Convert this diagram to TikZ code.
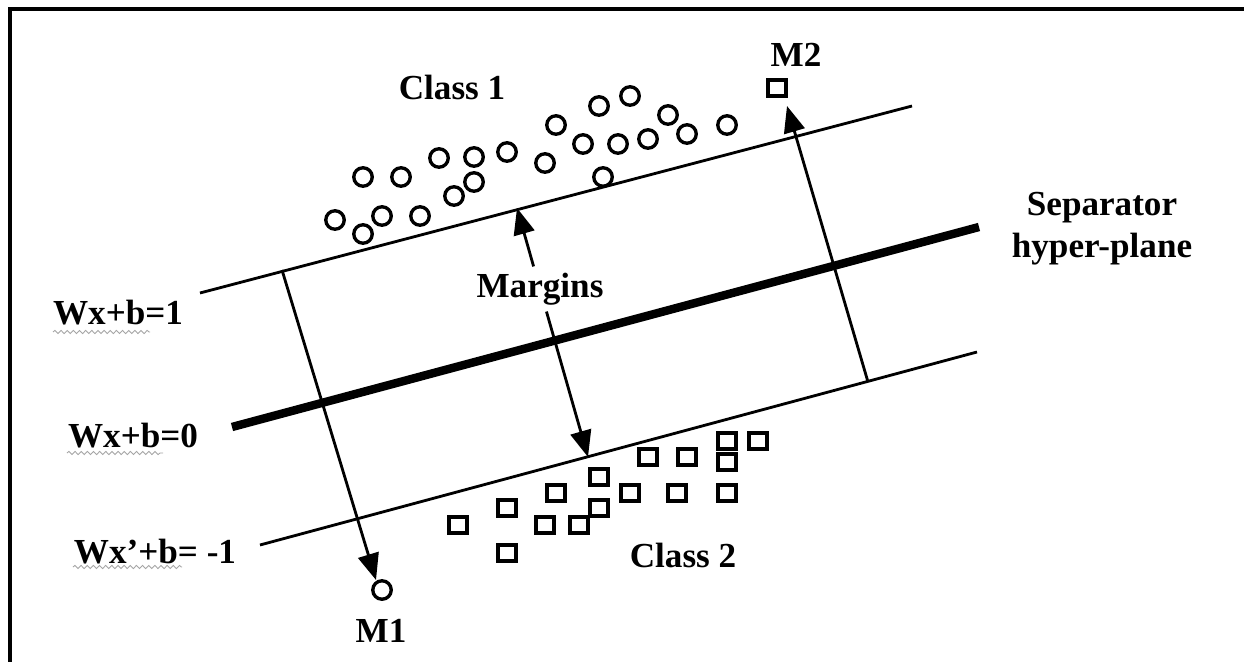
\documentclass[tikz,border=0pt]{standalone}
\usepackage{fontspec}
\setmainfont{Liberation Serif}
\usetikzlibrary{arrows.meta,decorations.pathmorphing}
\begin{document}
\begin{tikzpicture}[x=0.02cm,y=-0.02cm,
  lbl/.style={font=\fontsize{20}{24}\selectfont\bfseries, inner sep=2pt},
  cls1/.style={circle, draw, line width=1.9pt, minimum size=0.37cm, inner sep=0pt},
  cls2/.style={rectangle, draw, line width=1.9pt, minimum width=0.36cm, minimum height=0.32cm, inner sep=0pt},
  thinline/.style={line width=1.6pt},
  arr/.style={thinline, -{Triangle[length=15pt,width=12pt]}},
  wavy/.style={gray!70, line width=0.5pt, decorate, decoration={snake, amplitude=0.9pt, segment length=3.5pt}}
]
\useasboundingbox (0,0) rectangle (1244,662);
\fill[white] (0,0) rectangle (1244,662);
% frame
\draw[line width=2pt] (10,662) -- (10,9) -- (1244,9);

% margin and separator lines
\coordinate (u1) at (200,293);
\coordinate (u2) at (912,106);
\coordinate (l1) at (260,545);
\coordinate (l2) at (977,352);
\coordinate (s1) at (232,427);
\coordinate (s2) at (979,227);
\draw[thinline] (u1) -- (u2);
\draw[thinline] (l1) -- (l2);
\draw[line width=4.8pt] (s1) -- (s2);

% class 1 circles
\foreach \x/\y [count=\i] in {335/220,363/234,382/216,420/216,454/196,474/182,363/177,401/177,439/158,474/157,507/152,545/163,556/125,583/144,599/106,630/96,603/177,618/144,648/139,668/115,687/134,727/125}
  \node[cls1] (c\i) at (\x,\y) {};

% class 2 squares
\foreach \x/\y [count=\i] in {458/525,507/508,507/553,545/525,556/493,579/525,599/508,599/477,630/493,648/457,677/493,687/457,727/441,727/462,727/493,758/441}
  \node[cls2] (q\i) at (\x,\y) {};

% M1 and M2 points
\node[cls1] (m1) at (382,590) {};
\node[cls2] (m2) at (777,88) {};
\node[lbl] (m1l) at (381,631) {M1};
\node[lbl] (m2l) at (796,55) {M2};

% arrows to M1 and M2
\coordinate (m1s) at (282,270);
\coordinate (m1t) at (376,580);
\coordinate (m2s) at (868,382);
\coordinate (m2t) at (787,106);
\draw[arr] (m1s) -- (m1t);
\draw[arr] (m2s) -- (m2t);

% margins
\node[lbl, inner sep=3.5pt] (marg) at (540,289) {Margins};
\coordinate (mtop) at (517,208);
\coordinate (mbot) at (588,457);
\draw[arr] (marg) -- (mtop);
\draw[arr] (marg) -- (mbot);

% labels
\node[lbl] (cl1) at (452,87) {Class 1};
\node[lbl] (cl2) at (683,555) {Class 2};
\node[lbl, align=center] (sep) at (1102,229) {Separator\\hyper-plane};
\node[lbl] (e1) at (118,313) {Wx+b=1};
\node[lbl] (e0) at (133,436) {Wx+b=0};
\node[lbl] (em) at (155,552) {Wx’+b=\ -1};

% spell-check underlines
\coordinate (w1a) at (53,332); \coordinate (w1b) at (150,332);
\coordinate (w0a) at (67,453); \coordinate (w0b) at (163,453);
\coordinate (wma) at (73,567); \coordinate (wmb) at (182,567);
\draw[wavy] (w1a) -- (w1b);
\draw[wavy] (w0a) -- (w0b);
\draw[wavy] (wma) -- (wmb);
\end{tikzpicture}
\end{document}
